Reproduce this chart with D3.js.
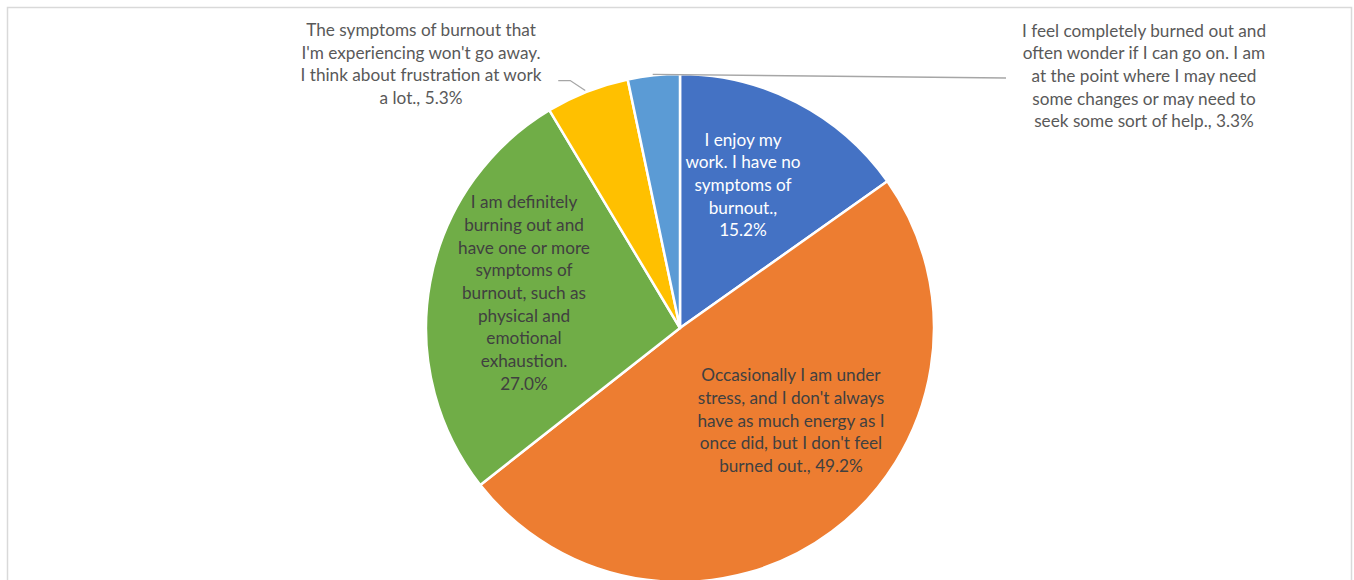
<!DOCTYPE html>
<html><head><meta charset="utf-8">
<script src="https://cdn.jsdelivr.net/npm/d3@7"></script>
<style>body{margin:0;background:#fff}svg{display:block}</style>
</head><body>
<svg id="c" width="1354" height="580"></svg>
<script>
const categories = [
  "I enjoy my work. I have no symptoms of burnout.",
  "Occasionally I am under stress, and I don't always have as much energy as I once did, but I don't feel burned out.",
  "I am definitely burning out and have one or more symptoms of burnout, such as physical and emotional exhaustion.",
  "The symptoms of burnout that I'm experiencing won't go away. I think about frustration at work a lot.",
  "I feel completely burned out and often wonder if I can go on. I am at the point where I may need some changes or may need to seek some sort of help."
];
const values = [15.2, 49.2, 27.0, 5.3, 3.3];
const valueLabels = ["15.2%", "49.2%", "27.0%", "5.3%", "3.3%"];
const labelLines = [
  ["I enjoy my", "work. I have no", "symptoms of", "burnout.,", "15.2%"],
  ["Occasionally I am under", "stress, and I don't always", "have as much energy as I", "once did, but I don't feel", "burned out., 49.2%"],
  ["I am definitely", "burning out and", "have one or more", "symptoms of", "burnout, such as", "physical and", "emotional", "exhaustion.", "27.0%"],
  ["The symptoms of burnout that", "I'm experiencing won't go away.", "I think about frustration at work", "a lot., 5.3%"],
  ["I feel completely burned out and", "often wonder if I can go on. I am", "at the point where I may need", "some changes or may need to", "seek some sort of help., 3.3%"]
];
const colors = ["#4472C4", "#ED7D31", "#70AD47", "#FFC000", "#5B9BD5"];

// layout
const cx = 680, cy = 328, R = 254;
const labelOffset = [[63, -143], [111, 92.5], [-156, -35], [-259, -264], [464, -252]];
const labelColor = ["#ffffff", "#404040", "#404040", "#595959", "#595959"];
const lineH = 22.7;

const svg = d3.select("#c");
svg.append("rect").attr("x", 7.5).attr("y", 7.5).attr("width", 1344).attr("height", 620)
  .attr("fill", "#fff").attr("stroke", "#d9d9d9").attr("stroke-width", 1.5);

const pie = d3.pie().sort(null).value(d => d);
const arcs = pie(values);
const arc = d3.arc().innerRadius(0).outerRadius(R);
const g = svg.append("g").attr("transform", `translate(${cx},${cy})`);
g.selectAll("path").data(arcs).join("path")
  .attr("d", arc).attr("fill", (d, i) => colors[i])
  .attr("stroke", "#fff").attr("stroke-width", 2.5).attr("stroke-linejoin", "round");

// leader lines
function edgePoint(d) {
  const a = (d.startAngle + d.endAngle) / 2;
  return [R * Math.sin(a), -R * Math.cos(a)];
}
const p3 = edgePoint(arcs[3]);
g.append("polyline").attr("fill", "none").attr("stroke", "#a6a6a6").attr("stroke-width", 1.3)
  .attr("points", [[p3[0] - 2, p3[1] - 1], [p3[0] - 17, p3[1] - 11], [p3[0] - 29, p3[1] - 11]].map(p => p.join(",")).join(" "));
const p4 = edgePoint(arcs[4]);
g.append("polyline").attr("fill", "none").attr("stroke", "#a6a6a6").attr("stroke-width", 1.3)
  .attr("points", [[p4[0] - 1, p4[1] - 1], [labelOffset[4][0] - 138, -250]].map(p => p.join(",")).join(" "));

// labels
labelLines.forEach((lines, i) => {
  const [dx, dy] = labelOffset[i];
  const t = g.append("text").attr("text-anchor", "middle")
    .attr("font-family", "Lato, 'Open Sans', sans-serif").attr("font-size", 17.2)
    .attr("fill", labelColor[i]);
  const n = lines.length;
  lines.forEach((s, k) => {
    t.append("tspan").attr("x", dx).attr("y", dy + (k - (n - 1) / 2) * lineH).attr("dy", "0.35em").text(s);
  });
});
</script>
</body></html>
